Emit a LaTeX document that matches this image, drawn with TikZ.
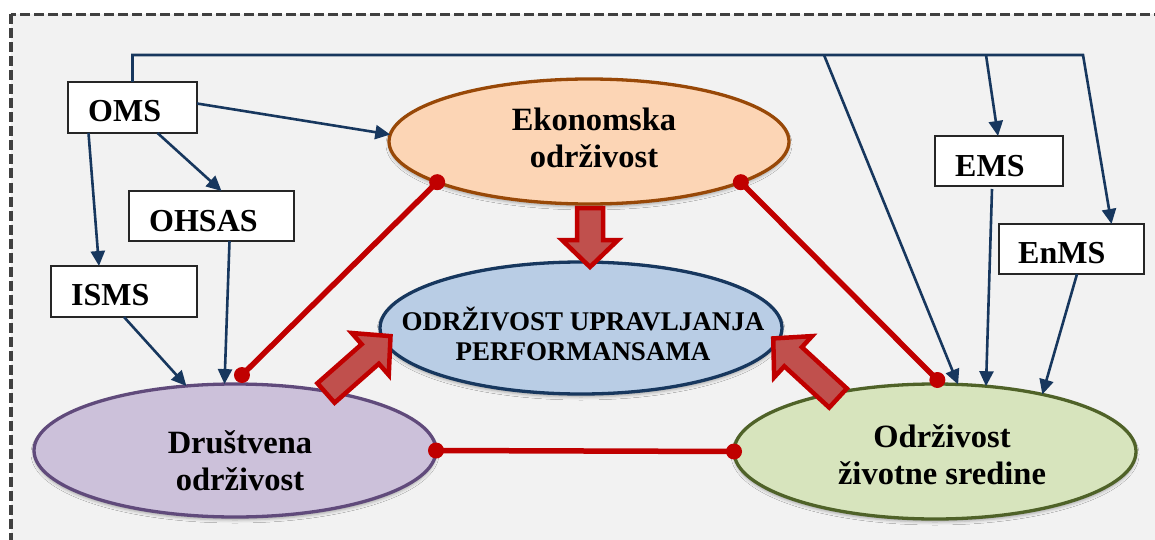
\documentclass[tikz,border=0pt]{standalone}
\usepackage{fontspec}
\setmainfont{Liberation Serif}
\usetikzlibrary{arrows.meta,shapes.geometric,calc,shadows.blur}

\definecolor{framegray}{HTML}{404040}
\definecolor{panelgray}{HTML}{F2F2F2}
\definecolor{navy}{HTML}{17375E}
\definecolor{darkred}{HTML}{C00000}
\definecolor{arrowfill}{HTML}{C0504D}
\definecolor{ekofill}{HTML}{FCD5B5}
\definecolor{ekoline}{HTML}{984807}
\definecolor{perffill}{HTML}{B9CDE5}
\definecolor{perfline}{HTML}{17375E}
\definecolor{drufill}{HTML}{CCC1DA}
\definecolor{druline}{HTML}{604A7B}
\definecolor{zivfill}{HTML}{D7E4BD}
\definecolor{zivline}{HTML}{4F6228}

\tikzset{
  sysbox/.style={rectangle, draw=black!85, fill=white, line width=1.5pt,
    inner sep=0pt, outer sep=0pt},
  boxtext/.style={anchor=base west, inner sep=0pt,
    font=\fontsize{32}{37}\selectfont\bfseries},
  pillar/.style={ellipse, inner sep=0pt, outer sep=0pt, line width=3.3pt,
    blur shadow={shadow xshift=0pt, shadow yshift=-3pt,
      shadow blur radius=3pt, shadow opacity=30}},
  pillartext/.style={align=center, inner sep=0pt,
    font=\fontsize{32.5}{37}\selectfont\bfseries},
  feed/.style={draw=navy, line width=2.6pt, -{Triangle[length=15pt,width=14pt]}},
  link/.style={draw=darkred, line width=5.5pt},
  linkdot/.style={fill=darkred},
  blockarrow/.style={fill=arrowfill, draw=darkred, line width=4.5pt,
    line join=miter, miter limit=10},
}

% broad arrow: #1 base point, #2 direction, #3 length
\newcommand{\broadarrow}[3]{%
  \draw[blockarrow, shift={#1}, rotate=#2]
    (0,-13) -- ({#3-27},-13) -- ({#3-27},-28) -- (#3,0)
    -- ({#3-27},28) -- ({#3-27},13) -- (0,13) -- cycle;}

\begin{document}
\begin{tikzpicture}[x=1pt, y=-1pt]
\useasboundingbox (0,0) rectangle (1155,540);

% dashed panel
\begin{scope}
  \clip (0,0) rectangle (1155,540);
  \draw[framegray, line width=3.6pt, dash pattern=on 10pt off 4pt,
    fill=panelgray] (11,14.5) rectangle (1180,570);
\end{scope}

% management system boxes
\node[sysbox, minimum width=129pt, minimum height=51pt] (oms)   at (132.5,107.5) {};
\node[sysbox, minimum width=165pt, minimum height=50pt] (ohsas) at (211.5,216)   {};
\node[sysbox, minimum width=146pt, minimum height=51pt] (isms)  at (124,291.5)   {};
\node[sysbox, minimum width=128pt, minimum height=50pt] (ems)   at (999,161)     {};
\node[sysbox, minimum width=145pt, minimum height=50pt] (enms)  at (1071.5,249)  {};

\node[boxtext] (omst)   at ($(oms.north west)+(20,40)$)   {OMS};
\node[boxtext] (ohsast) at ($(ohsas.north west)+(20,40)$) {OHSAS};
\node[boxtext] (ismst)  at ($(isms.north west)+(20,39)$)  {ISMS};
\node[boxtext] (emst)   at ($(ems.north west)+(20,40)$)   {EMS};
\node[boxtext] (enmst)  at ($(enms.north west)+(19,39)$)  {EnMS};

% sustainability ellipses
\node[pillar, fill=ekofill, draw=ekoline, minimum width=400pt, minimum height=125pt]
  (eko) at (589,141.5) {};
\node[pillar, fill=perffill, draw=perfline, minimum width=402pt, minimum height=132pt]
  (perf) at (581,328) {};
\node[pillar, fill=drufill, draw=druline, minimum width=402pt, minimum height=133pt]
  (dru) at (235,450.5) {};
\node[pillar, fill=zivfill, draw=zivline, minimum width=402pt, minimum height=135pt]
  (ziv) at (935,451.5) {};

\node[pillartext] (ekot) at (594,138) {Ekonomska\\održivost};
\node[pillartext, font=\fontsize{27}{30}\selectfont\bfseries] (perft) at (583,334)
  {ODRŽIVOST UPRAVLJANJA\\PERFORMANSAMA};
\node[pillartext] (drut) at (240,461) {Društvena\\održivost};
\node[pillartext] (zivt) at (942,455) {Održivost\\životne sredine};

% OMS distribution line
\coordinate (busL) at (oms.north |- 0,55);
\coordinate (busA) at (824,55);
\coordinate (busB) at (986,55);
\coordinate (busR) at (1083,55);
\draw[feed] (oms.north) -- (busL) -- (busR) -- ([xshift=40pt]enms.north);
\draw[feed] (busB) -- ([xshift=-1pt]ems.north);
\draw[feed] (busA) -- (ziv.71);

% feeds into the pillars
\draw[feed] ([yshift=4pt]oms.east) -- (eko.178);
\draw[feed] ([xshift=25pt]oms.south) -- ([xshift=10pt]ohsas.north);
\draw[feed] ([xshift=-44pt]oms.south) -- ([xshift=-25pt]isms.north);
\draw[feed] (isms.south) -- (dru.127);
\draw[feed] ([xshift=18pt]ohsas.south) -- (dru.99);
\draw[feed] ([shift={(-7pt,-3pt)}]ems.south) -- (ziv.52);
\draw[feed] ([xshift=5.5pt]enms.south) -- (ziv.28.5);

% red links between the pillars
\coordinate (ekoL) at (eko.195.4);
\coordinate (ekoR) at (eko.345.5);
\coordinate (druT) at ([yshift=9pt]dru.84);
\coordinate (druR) at (dru.east);
\coordinate (zivT) at ([yshift=4pt]ziv.88);
\coordinate (zivL) at (ziv.west);
\draw[link] (ekoL) -- (druT);
\draw[link] (ekoR) -- (zivT);
\draw[link] (druR) -- (zivL);
\foreach \p in {ekoL,ekoR,druT,druR,zivT,zivL}
  \fill[linkdot] (\p) circle[radius=8pt];

% broad arrows into the central ellipse
\broadarrow{(590,208)}{-90}{59}
\broadarrow{(326,393)}{41.4}{86}
\broadarrow{(838,398)}{137.4}{88}

\end{tikzpicture}
\end{document}
